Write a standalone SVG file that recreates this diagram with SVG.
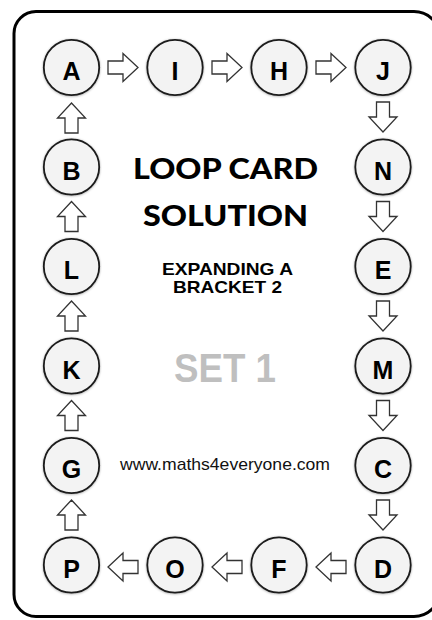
<svg xmlns="http://www.w3.org/2000/svg" xmlns:xlink="http://www.w3.org/1999/xlink" width="432" height="620" viewBox="0 0 432 620">
<style>
.card{fill:#fff;stroke:#000;stroke-width:3}
.node circle{fill:#f3f3f3;stroke:#1a1a1a;stroke-width:1.8;filter:url(#sh)}
.node text{font-family:"Liberation Sans",Arial,sans-serif;font-weight:bold;font-size:25px;fill:#000;text-anchor:middle}
.arr{fill:#fff;stroke:#333;stroke-width:1.3;stroke-linejoin:miter}
.title{font-family:Lato,"Open Sans",sans-serif;font-weight:900;font-size:29px;fill:#000;text-anchor:middle}
.sub{font-family:"Liberation Sans",Arial,sans-serif;font-weight:bold;font-size:17px;fill:#000;text-anchor:middle}
.set{font-family:"Liberation Sans",Arial,sans-serif;font-weight:bold;font-size:40px;fill:#bfbfbf;text-anchor:middle}
.url{font-family:"Liberation Sans",Arial,sans-serif;font-size:17px;fill:#111;text-anchor:middle}
</style>
<defs>
<filter id="sh" x="-20%" y="-20%" width="140%" height="140%">
<feDropShadow dx="0" dy="0.5" stdDeviation="0.8" flood-color="#000" flood-opacity="0.35"/>
</filter>
<path id="ar" d="M-15,-6.5 H0 V-14 L15,0 L0,14 V6.5 H-15 Z"/>
</defs>
<rect width="432" height="620" fill="#fff"/>
<path class="card" d="M36,11.5 H414 A26,26 0 0 1 440,37.5 V590.5 A26,26 0 0 1 414,616.5 H36 A22,22 0 0 1 14,594.5 V33.5 A22,22 0 0 1 36,11.5 Z"/>

<g id="connectors">
<use href="#ar" class="arr" transform="translate(123,67.5)"/>
<use href="#ar" class="arr" transform="translate(227,67.5)"/>
<use href="#ar" class="arr" transform="translate(331,67.5)"/>
<use href="#ar" class="arr" transform="translate(383,117) rotate(90)"/>
<use href="#ar" class="arr" transform="translate(383,216.5) rotate(90)"/>
<use href="#ar" class="arr" transform="translate(383,316) rotate(90)"/>
<use href="#ar" class="arr" transform="translate(383,415.5) rotate(90)"/>
<use href="#ar" class="arr" transform="translate(383,515) rotate(90)"/>
<use href="#ar" class="arr" transform="translate(331,567) rotate(180)"/>
<use href="#ar" class="arr" transform="translate(227,567) rotate(180)"/>
<use href="#ar" class="arr" transform="translate(123,567) rotate(180)"/>
<use href="#ar" class="arr" transform="translate(71.5,515) rotate(-90)"/>
<use href="#ar" class="arr" transform="translate(71.5,415.5) rotate(-90)"/>
<use href="#ar" class="arr" transform="translate(71.5,316) rotate(-90)"/>
<use href="#ar" class="arr" transform="translate(71.5,216.5) rotate(-90)"/>
<use href="#ar" class="arr" transform="translate(71.5,118) rotate(-90)"/>
</g>

<g id="node-A" class="node"><circle cx="71.5" cy="67.5" r="27.7"/><text x="71.5" y="80">A</text></g>
<g id="node-I" class="node"><circle cx="175" cy="67.5" r="27.7"/><text x="175" y="80">I</text></g>
<g id="node-H" class="node"><circle cx="279" cy="67.5" r="27.7"/><text x="279" y="80">H</text></g>
<g id="node-J" class="node"><circle cx="383" cy="67.5" r="27.7"/><text x="383" y="80">J</text></g>
<g id="node-N" class="node"><circle cx="383" cy="167" r="27.7"/><text x="383" y="179.5">N</text></g>
<g id="node-E" class="node"><circle cx="383" cy="266.5" r="27.7"/><text x="383" y="279">E</text></g>
<g id="node-M" class="node"><circle cx="383" cy="366" r="27.7"/><text x="383" y="378.5">M</text></g>
<g id="node-C" class="node"><circle cx="383" cy="465.5" r="27.7"/><text x="383" y="478">C</text></g>
<g id="node-D" class="node"><circle cx="383" cy="565" r="27.7"/><text x="383" y="577.5">D</text></g>
<g id="node-F" class="node"><circle cx="279" cy="565" r="27.7"/><text x="279" y="577.5">F</text></g>
<g id="node-O" class="node"><circle cx="175" cy="565" r="27.7"/><text x="175" y="577.5">O</text></g>
<g id="node-P" class="node"><circle cx="71.5" cy="565" r="27.7"/><text x="71.5" y="577.5">P</text></g>
<g id="node-G" class="node"><circle cx="71.5" cy="465.5" r="27.7"/><text x="71.5" y="478">G</text></g>
<g id="node-K" class="node"><circle cx="71.5" cy="366" r="27.7"/><text x="71.5" y="378.5">K</text></g>
<g id="node-L" class="node"><circle cx="71.5" cy="266.5" r="27.7"/><text x="71.5" y="279">L</text></g>
<g id="node-B" class="node"><circle cx="71.5" cy="167" r="27.7"/><text x="71.5" y="179.5">B</text></g>

<g id="labels">
<text class="title" x="225.5" y="179" textLength="185" lengthAdjust="spacingAndGlyphs">LOOP CARD</text>
<text class="title" x="225.5" y="226" textLength="165" lengthAdjust="spacingAndGlyphs">SOLUTION</text>
<text class="sub" x="227.5" y="275" textLength="131" lengthAdjust="spacingAndGlyphs">EXPANDING A</text>
<text class="sub" x="227.5" y="293" textLength="109" lengthAdjust="spacingAndGlyphs">BRACKET 2</text>
<text class="set" x="225" y="382" textLength="102" lengthAdjust="spacingAndGlyphs">SET 1</text>
<text class="url" x="225" y="470" textLength="210" lengthAdjust="spacingAndGlyphs">www.maths4everyone.com</text>
</g>
</svg>
